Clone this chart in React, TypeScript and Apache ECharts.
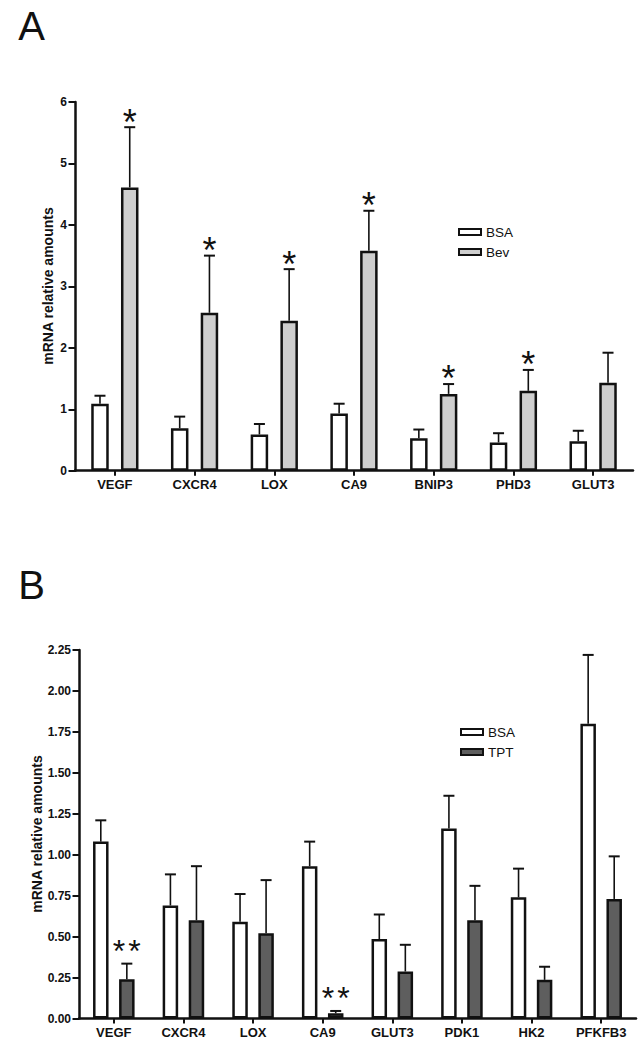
import React, { useEffect, useRef } from "react";
import * as echarts from "echarts";

// ---------- Panel A data ----------
const catsA = ["VEGF", "CXCR4", "LOX", "CA9", "BNIP3", "PHD3", "GLUT3"];
const bsaA = [1.09, 0.69, 0.59, 0.93, 0.53, 0.46, 0.48];
const bsaAErr = [0.13, 0.19, 0.17, 0.16, 0.14, 0.15, 0.17];
const bevA = [4.61, 2.57, 2.44, 3.58, 1.25, 1.3, 1.43];
const bevAErr = [0.98, 0.93, 0.84, 0.65, 0.16, 0.34, 0.49];
const sigA = ["*", "*", "*", "*", "*", "*", ""];

// ---------- Panel B data ----------
const catsB = ["VEGF", "CXCR4", "LOX", "CA9", "GLUT3", "PDK1", "HK2", "PFKFB3"];
const bsaB = [1.08, 0.69, 0.59, 0.93, 0.485, 1.16, 0.74, 1.8];
const bsaBErr = [0.13, 0.19, 0.17, 0.15, 0.15, 0.2, 0.175, 0.42];
const tptB = [0.24, 0.6, 0.52, 0.032, 0.287, 0.6, 0.236, 0.73];
const tptBErr = [0.095, 0.33, 0.325, 0.014, 0.163, 0.21, 0.08, 0.26];
const sigB = ["**", "", "", "**", "", "", "", ""];

const FONT = "'Liberation Sans', Arial, Helvetica, sans-serif";
const INK = "#111111";
const BEV_FILL = "#cecece";
const TPT_FILL = "#5e5e5e";

const BW_A = 17.5;
const GAP_A = 0.7;
const BW_B = 15.5;
const GAP_B = 0.68;
const OFF_A = (BW_A * (1 + GAP_A)) / 2;
const OFF_B = (BW_B * (1 + GAP_B)) / 2;

function errSeries(
  gi: number,
  means: number[],
  errs: number[],
  sigs: string[],
  offset: number,
  starSize: number,
  starLift: number,
  starSpacing: number
) {
  return {
    type: "custom",
    xAxisIndex: gi,
    yAxisIndex: gi,
    z: 5,
    silent: true,
    data: means.map((m, i) => [i, m, errs[i]]),
    encode: { x: 0, y: 1 },
    renderItem: (params: any, api: any) => {
      const i = api.value(0);
      const m = api.value(1);
      const e = api.value(2);
      const base = api.coord([i, m]);
      const top = api.coord([i, m + e]);
      const x = base[0] + offset;
      const children: any[] = [
        {
          type: "line",
          shape: { x1: x, y1: base[1], x2: x, y2: top[1] },
          style: { stroke: INK, lineWidth: 1.6 },
        },
        {
          type: "line",
          shape: { x1: x - 5.5, y1: top[1], x2: x + 5.5, y2: top[1] },
          style: { stroke: INK, lineWidth: 2 },
        },
      ];
      const sig = sigs[params.dataIndex] || "";
      const n = sig.length;
      for (let k = 0; k < n; k++) {
        const sx = x + (k - (n - 1) / 2) * starSpacing;
        children.push({
          type: "text",
          style: {
            text: "*",
            x: sx,
            y: top[1] - starLift + 0.22 * starSize,
            align: "center",
            verticalAlign: "middle",
            fontSize: starSize,
            fontFamily: FONT,
            fill: INK,
          },
        });
      }
      return { type: "group", children };
    },
  };
}

function xAxisCfg(gi: number, data: string[]) {
  return {
    gridIndex: gi,
    type: "category",
    data,
    axisLine: { show: true, lineStyle: { color: INK, width: 2.5 } },
    axisTick: { show: true, alignWithLabel: true, length: 5, lineStyle: { color: INK, width: 2 } },
    axisLabel: { fontFamily: FONT, fontWeight: "bold", fontSize: 13, color: INK, margin: 7 },
    splitLine: { show: false },
  };
}

function yAxisCfg(gi: number, max: number, interval: number, fmt: (v: number) => string) {
  return {
    gridIndex: gi,
    type: "value",
    min: 0,
    max,
    interval,
    axisLine: { show: true, lineStyle: { color: INK, width: 2.5 } },
    axisTick: { show: true, length: 6.5, lineStyle: { color: INK, width: 2 } },
    axisLabel: { fontFamily: FONT, fontWeight: "bold", fontSize: 12, color: INK, margin: 8, formatter: fmt },
    splitLine: { show: false },
  };
}

function barSeries(name: string, gi: number, data: number[], fill: string, bw: number, gap: number) {
  return {
    name,
    type: "bar",
    xAxisIndex: gi,
    yAxisIndex: gi,
    data,
    barWidth: bw,
    barGap: `${Math.round(gap * 100)}%`,
    itemStyle: { color: fill, borderColor: INK, borderWidth: 2.5 },
    z: 2,
  };
}

export default function App() {
  const ref = useRef<HTMLDivElement>(null);
  useEffect(() => {
    if (!ref.current) return;
    const chart = echarts.init(ref.current, undefined, { renderer: "svg" });
    const option: any = {
      animation: false,
      backgroundColor: "#ffffff",
      grid: [
        { left: 75, top: 102, width: 558, height: 368.7 },
        { left: 79, top: 650, width: 557, height: 368.5 },
      ],
      xAxis: [xAxisCfg(0, catsA), xAxisCfg(1, catsB)],
      yAxis: [
        yAxisCfg(0, 6, 1, (v: number) => String(v)),
        yAxisCfg(1, 2.25, 0.25, (v: number) => v.toFixed(2)),
      ],
      legend: [
        {
          orient: "vertical",
          left: 458,
          top: 222,
          padding: 0,
          itemGap: 0,
          itemWidth: 22,
          itemHeight: 6,
          icon: "rect",
          selectedMode: false,
          data: ["BSA", "Bev"],
          itemStyle: { borderWidth: 2, borderColor: INK },
          textStyle: { fontFamily: FONT, fontSize: 13.5, color: INK, lineHeight: 20 },
        },
        {
          orient: "vertical",
          left: 460,
          top: 722,
          padding: 0,
          itemGap: 0,
          itemWidth: 22,
          itemHeight: 6,
          icon: "rect",
          selectedMode: false,
          data: ["BSA", "TPT"],
          itemStyle: { borderWidth: 2, borderColor: INK },
          textStyle: { fontFamily: FONT, fontSize: 13.5, color: INK, lineHeight: 20 },
        },
      ],
      graphic: [
        {
          type: "text",
          x: 31.7,
          y: 26,
          style: { text: "A", fontSize: 40, fontFamily: FONT, fill: INK, align: "center", verticalAlign: "middle" },
        },
        {
          type: "text",
          x: 31.5,
          y: 585,
          style: { text: "B", fontSize: 40, fontFamily: FONT, fill: INK, align: "center", verticalAlign: "middle" },
        },
        {
          type: "text",
          x: 48,
          y: 286,
          rotation: Math.PI / 2,
          style: {
            text: "mRNA relative amounts",
            fontSize: 14,
            fontWeight: "bold",
            fontFamily: FONT,
            fill: INK,
            align: "center",
            verticalAlign: "middle",
          },
        },
        {
          type: "text",
          x: 37,
          y: 834,
          rotation: Math.PI / 2,
          style: {
            text: "mRNA relative amounts",
            fontSize: 14,
            fontWeight: "bold",
            fontFamily: FONT,
            fill: INK,
            align: "center",
            verticalAlign: "middle",
          },
        },
      ],
      series: [
        barSeries("BSA", 0, bsaA, "#ffffff", BW_A, GAP_A),
        barSeries("Bev", 0, bevA, BEV_FILL, BW_A, GAP_A),
        errSeries(0, bsaA, bsaAErr, bsaA.map(() => ""), -OFF_A, 36, 13, 15),
        errSeries(0, bevA, bevAErr, sigA, OFF_A, 36, 13, 15),
        barSeries("BSA", 1, bsaB, "#ffffff", BW_B, GAP_B),
        barSeries("TPT", 1, tptB, TPT_FILL, BW_B, GAP_B),
        errSeries(1, bsaB, bsaBErr, bsaB.map(() => ""), -OFF_B, 32, 20, 15.5),
        errSeries(1, tptB, tptBErr, sigB, OFF_B, 32, 20, 15.5),
      ],
    };
    chart.setOption(option);
    return () => chart.dispose();
  }, []);
  return (
    <div
      ref={ref}
      style={{ position: "absolute", left: 0, top: 0, width: 643, height: 1050, background: "#fff" }}
    />
  );
}
